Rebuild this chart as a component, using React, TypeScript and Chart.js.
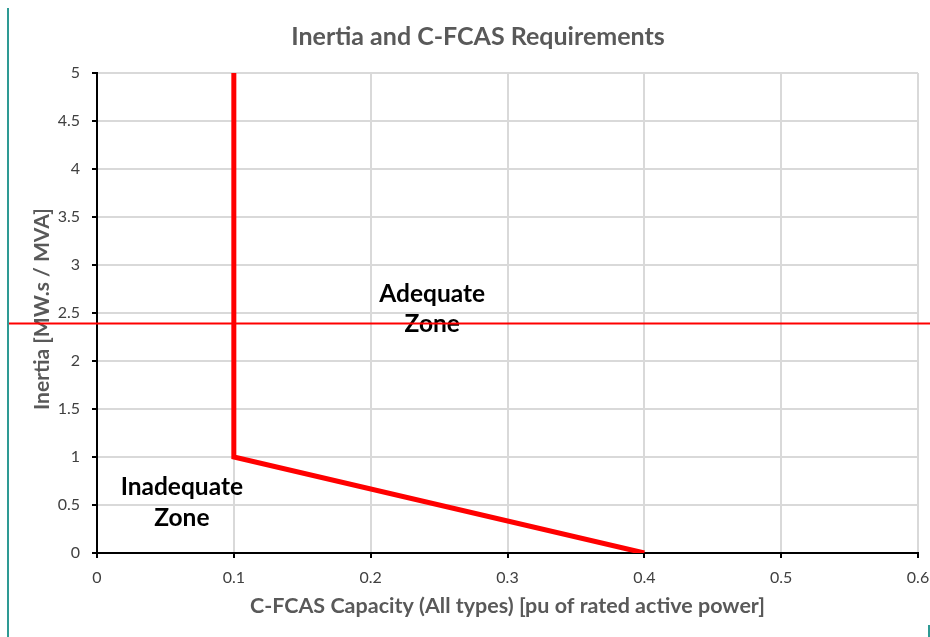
import React, { useEffect, useRef } from "react";
import { Chart, registerables } from "chart.js";

Chart.register(...registerables);

const capacityValues = [0.1, 0.1, 0.4];
const inertiaValues = [5, 1, 0];
const thresholdInertia = 2.4;
const chartTitle = "Inertia and C-FCAS Requirements";
const xAxisTitle = "C-FCAS Capacity (All types) [pu of rated active power]";
const yAxisTitle = "Inertia [MW.s / MVA]";
const adequateLabel = ["Adequate", "Zone"];
const inadequateLabel = ["Inadequate", "Zone"];
const adequatePos = { x: 0.245, y: 2.4 };
const inadequatePos = { x: 0.062, y: 0.5 };

const FONT = "Lato, Carlito, 'Open Sans', sans-serif";

const overlayPlugin = {
  id: "overlay",
  afterDraw(chart: any) {
    const { ctx, scales, chartArea } = chart;
    const xs = scales.x;
    const ys = scales.y;
    ctx.save();
    // title
    ctx.fillStyle = "#595959";
    ctx.textAlign = "center";
    ctx.textBaseline = "middle";
    ctx.font = `bold 25px ${FONT}`;
    ctx.fillText(chartTitle, 478, 37);
    // x title
    ctx.font = `bold 21.5px ${FONT}`;
    ctx.fillText(xAxisTitle, (chartArea.left + chartArea.right) / 2, 606);
    // y title
    ctx.font = `bold 21px ${FONT}`;
    ctx.save();
    ctx.translate(42, 309);
    ctx.rotate(-Math.PI / 2);
    ctx.fillText(yAxisTitle, 0, 0);
    ctx.restore();
    // zone labels
    ctx.fillStyle = "#000000";
    ctx.font = `bold 24.5px ${FONT}`;
    const ax = xs.getPixelForValue(adequatePos.x);
    const ay = ys.getPixelForValue(adequatePos.y);
    ctx.fillText(adequateLabel[0], ax, ay - 29);
    ctx.fillText(adequateLabel[1], ax, ay + 1);
    const ix = xs.getPixelForValue(inadequatePos.x);
    const iy = ys.getPixelForValue(inadequatePos.y);
    ctx.fillText(inadequateLabel[0], ix, iy - 18);
    ctx.fillText(inadequateLabel[1], ix, iy + 13);
    // threshold line across full width
    const ty = Math.round(ys.getPixelForValue(thresholdInertia)) + 0.5;
    ctx.strokeStyle = "#ff0000";
    ctx.lineWidth = 2;
    ctx.beginPath();
    ctx.moveTo(8, ty);
    ctx.lineTo(chart.width, ty);
    ctx.stroke();
    // teal frame fragments
    ctx.strokeStyle = "#2e9a94";
    ctx.lineWidth = 2;
    ctx.beginPath();
    ctx.moveTo(8, 8);
    ctx.lineTo(8, chart.height);
    ctx.moveTo(929, 625);
    ctx.lineTo(929, chart.height);
    ctx.stroke();
    ctx.restore();
  },
};

const fmt = (v: any) => String(Number(Number(v).toFixed(2)));

export default function App() {
  const canvasRef = useRef<HTMLCanvasElement>(null);
  useEffect(() => {
    const canvas = canvasRef.current;
    if (!canvas) return;
    const chart = new Chart(canvas, {
      type: "scatter",
      data: {
        datasets: [
          {
            data: capacityValues.map((x, i) => ({ x, y: inertiaValues[i] })),
            showLine: true,
            borderColor: "#ff0000",
            backgroundColor: "#ff0000",
            borderWidth: 5,
            pointRadius: 0,
            borderJoinStyle: "miter",
            borderCapStyle: "butt",
          },
        ],
      },
      options: {
        animation: false,
        responsive: false,
        events: [],
        layout: { padding: { top: 73, right: 12, bottom: 0, left: 0 } },
        plugins: {
          legend: { display: false },
          tooltip: { enabled: false },
          title: { display: false },
        },
        scales: {
          x: {
            type: "linear",
            min: 0,
            max: 0.6,
            ticks: {
              stepSize: 0.1,
              padding: 10,
              color: "#404040",
              font: { family: FONT, size: 16 },
              callback: fmt,
            },
            grid: {
              color: "#d9d9d9",
              lineWidth: 2,
              drawTicks: true,
              tickLength: 5,
              tickColor: "#000000",
              tickWidth: 2,
            },
            border: { color: "#000000", width: 2 },
            afterFit(scale: any) {
              scale.height = 84;
              scale.paddingRight = 0;
              scale.paddingLeft = 0;
            },
          },
          y: {
            type: "linear",
            min: 0,
            max: 5,
            ticks: {
              stepSize: 0.5,
              padding: 12,
              color: "#404040",
              font: { family: FONT, size: 16 },
              callback: fmt,
            },
            grid: {
              color: "#d9d9d9",
              lineWidth: 2,
              drawTicks: true,
              tickLength: 5,
              tickColor: "#000000",
              tickWidth: 2,
            },
            border: { color: "#000000", width: 2 },
            afterFit(scale: any) {
              scale.width = 97;
            },
          },
        },
      },
      plugins: [overlayPlugin],
    } as any);
    return () => chart.destroy();
  }, []);
  return (
    <div style={{ position: "fixed", left: 0, top: 0, width: 930, height: 637, background: "#fff" }}>
      <canvas ref={canvasRef} width={930} height={637} style={{ display: "block" }} />
    </div>
  );
}
